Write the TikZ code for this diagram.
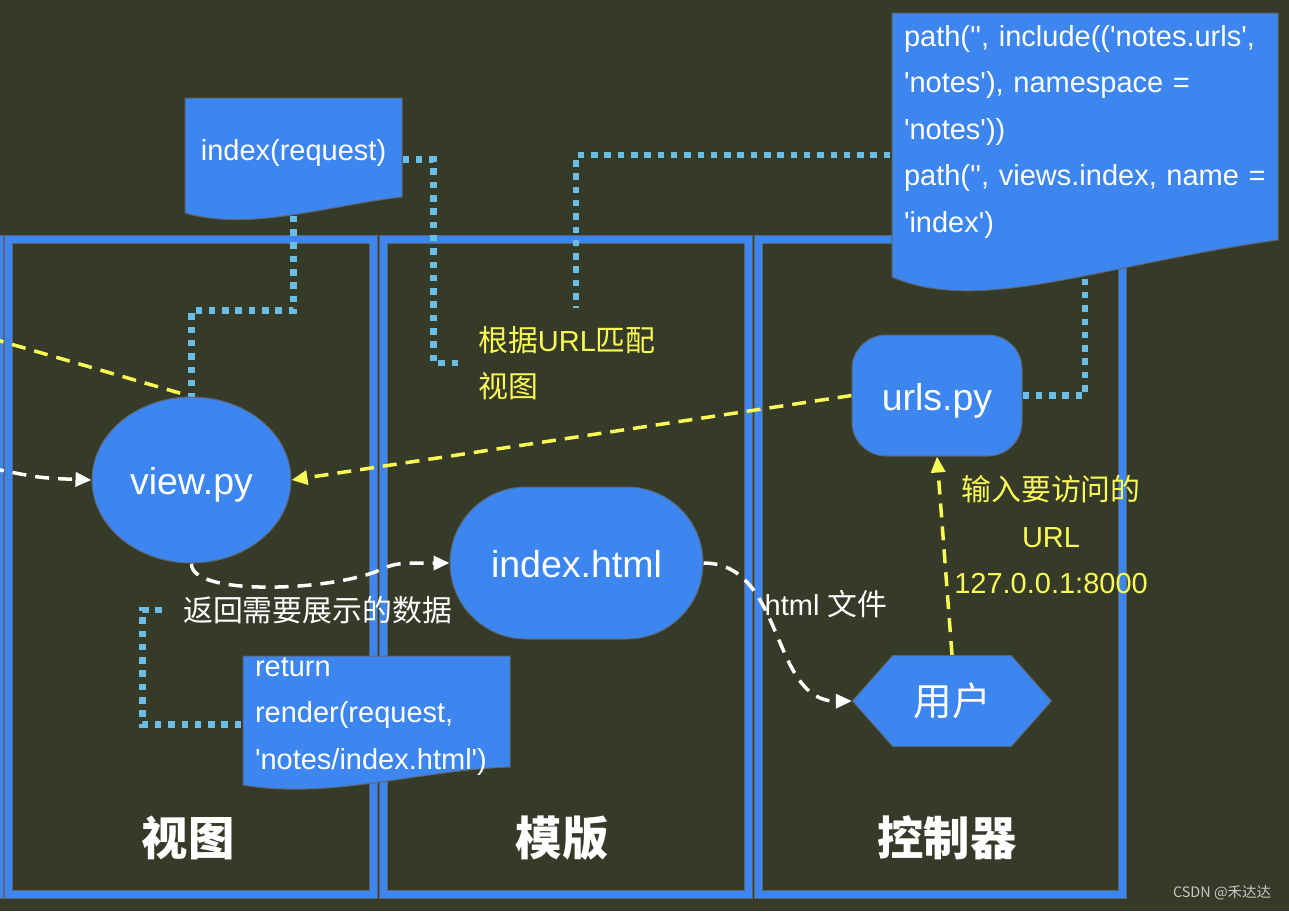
\documentclass[tikz,border=0pt]{standalone}
\usepackage{fontspec}
\newfontfamily\latin{Liberation Sans}
\newfontfamily\cjk{Noto Sans CJK SC}[Scale=1.03]
\usetikzlibrary{arrows.meta,shapes.geometric,shapes.symbols}

\definecolor{bgolive}{RGB}{54,58,41}
\definecolor{boxblue}{RGB}{61,134,240}
\definecolor{rimgray}{RGB}{92,102,112}
\definecolor{dotblue}{RGB}{108,189,230}
\definecolor{hiyellow}{RGB}{250,250,85}
\definecolor{markgray}{RGB}{200,200,200}

\pgfdeclarelayer{bg}
\pgfdeclarelayer{edges}
\pgfsetlayers{bg,edges,main}

\tikzset{
  lane/.style={draw=rimgray, double=boxblue, double distance=7pt,
    line width=1pt, minimum width=365pt, minimum height=655pt, inner sep=0pt},
  lanetitle/.style={text=white, font=\cjk\bfseries\fontsize{45}{54}\selectfont},
  blob/.style={fill=boxblue, draw=rimgray, line width=1pt, text=white,
    inner sep=0pt, text height=29.5pt, text depth=0pt,
    font=\latin\fontsize{37.5}{45}\selectfont},
  doc/.style={fill=boxblue, draw=rimgray, line width=1pt},
  doctext/.style={text=white, inner sep=0pt, yshift=-5pt,
    font=\latin\fontsize{29}{46.5}\selectfont},
  note/.style={inner sep=0pt, font=\latin\fontsize{29}{46.5}\selectfont},
  link/.style={dotblue, line width=6.5pt, dash pattern=on 6.5pt off 6.8pt},
  call/.style={white, line width=3.5pt, dash pattern=on 14pt off 9pt,
    -{Triangle[length=16pt,width=14pt]}},
  route/.style={hiyellow, line width=3.5pt, dash pattern=on 14pt off 9pt}
}

\begin{document}
\begin{tikzpicture}[x=1pt, y=-1pt]
\useasboundingbox (0,0) rectangle (1289,911);

\begin{pgfonlayer}{bg}
\fill[bgolive] (0,0) rectangle (1289,911);
\node[lane] (lane0) at (-183,567) {};
\node[lane] (lane1) at (191,567) {};
\node[lane] (lane2) at (566,567) {};
\node[lane, minimum width=364pt] (lane3) at (940.5,567) {};
\end{pgfonlayer}

% lane titles
\node[lanetitle] (view) at (188,838) {视图};
\node[lanetitle] (tmpl) at (562,838) {模版};
\node[lanetitle] (ctrl) at (947,838) {控制器};

% main nodes
\node[blob, ellipse, minimum width=199pt, minimum height=166pt] (vw) at (191.5,480) {view.py};
\node[blob, rounded corners=76pt, minimum width=253pt, minimum height=152pt] (page) at (576.5,563) {index.html};
\node[blob, rounded corners=34pt, minimum width=170pt, minimum height=121pt] (urls) at (937,395.5) {urls.py};
\node[blob, signal, signal to=east and west, signal pointer angle=97,
  minimum width=199pt, minimum height=91pt,
  font=\cjk\fontsize{37.5}{45}\selectfont] (user) at (952,701) {用户};

% code notes
\filldraw[doc] (185,98) -- (402,98) -- (402,197)
  .. controls (330,205) and (250,232) .. (185,213) -- cycle
  node[doctext, minimum width=217pt, minimum height=99pt] (idx) at (293.5,147.5) {index(request)};
\filldraw[doc] (892,13) -- (1278,13) -- (1278,240)
  .. controls (1100,265) and (980,315) .. (892,277) -- cycle
  node[doctext, text width=362pt, align=left, minimum height=227pt] (conf) at (1085,126.5)
  {path('', include(('notes.urls',\\'notes'), namespace =\\'notes'))\\path('', views.index, name =\\'index')};
\filldraw[doc] (243,656) -- (510,656) -- (510,767)
  .. controls (420,770) and (330,800) .. (243,785) -- cycle
  node[doctext, text width=243pt, align=left, minimum height=111pt] (ret) at (376.5,711.5)
  {return\\render(request,\\'notes/index.html')};

% labels
\node[note, text=hiyellow, anchor=west, align=left, inner xsep=16pt] (match) at (462,363)
  {{\cjk 根据}URL{\cjk 匹配}\\{\cjk 视图}};
\node[note, text=hiyellow, align=center] (hint) at (1051,535)
  {{\cjk 输入要访问的}\\URL\\127.0.0.1:8000};
\node[note, text=white, anchor=west, inner xsep=18pt] (back) at (165,610) {{\cjk 返回需要展示的数据}};
\node[note, text=white] (file) at (826,604) {html {\cjk 文件}};
\node[text=markgray, font=\cjk\fontsize{14}{16}\selectfont] (mark) at (1222,893) {CSDN @禾达达};

\begin{pgfonlayer}{edges}
\coordinate (fromL) at (-10,338);
\coordinate (inL) at (-10,468);
\coordinate (scan) at (576,308);

\draw[route] (fromL) -- (vw.north);
\draw[call] (inL) .. controls (40,478) .. (vw.west);
\draw[route, -{Triangle[length=16pt,width=14pt]}] (urls.west) -- (vw.east);
\draw[route, -{Triangle[length=16pt,width=14pt]}] (user.north) -- (urls.south);
\draw[call] (vw.south) .. controls (190,595) and (320,592) .. (375,572)
  .. controls (395,563) .. (page.west);
\draw[call] (page.east) .. controls (785,563) and (770,702) .. (user.west);

\draw[link] (idx.south) -- ++(0,108) -| (vw.north);
\draw[link] ([yshift=-7pt]idx.east) -- ++(31,0) |- (match.west);
\draw[link] ([yshift=-23.5pt]conf.west) -| (scan);
\draw[link] (urls.east) -| (conf.south);
\draw[link] ([yshift=-8pt]ret.west) -- ++(-112,0) |- (back.west);
\end{pgfonlayer}
\end{tikzpicture}
\end{document}
